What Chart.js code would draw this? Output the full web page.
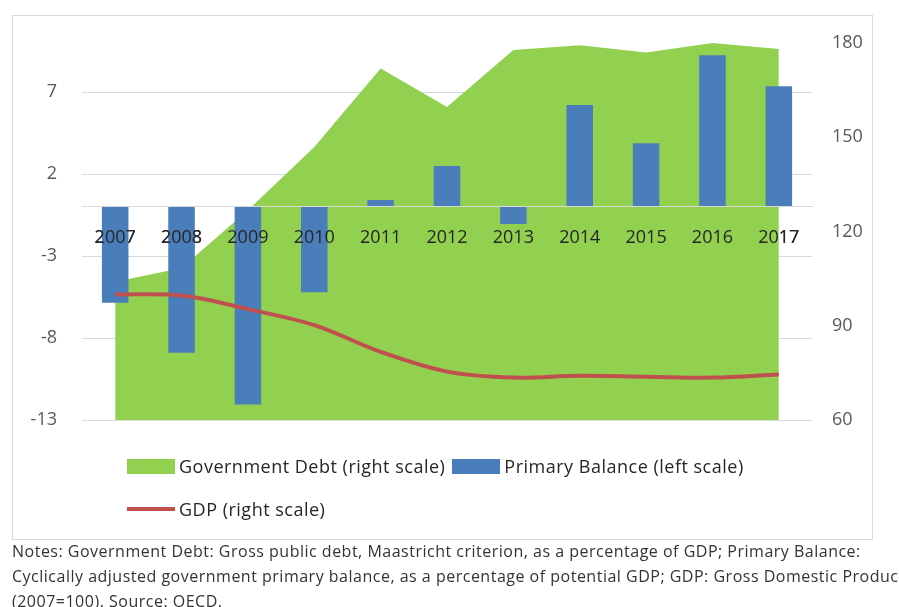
<!DOCTYPE html>
<html>
<head>
<meta charset="utf-8">
<script src="https://cdn.jsdelivr.net/npm/chart.js@4.4.1/dist/chart.umd.min.js"></script>
<style>
    body { margin: 0; background: #fff; font-family: "Open Sans", sans-serif; overflow: hidden; }
    #box {
        position: absolute; left: 12px; top: 15px; width: 861px; height: 525px;
        box-sizing: border-box; border: 1px solid #d9d9d9;
    }
    #wrap { position: absolute; left: 0; top: 0; width: 859px; height: 523px; }
    #legend { position: absolute; left: 114px; top: 438px; font-size: 18px; letter-spacing: 0.5px; color: #262626; }
    .row { display: flex; align-items: center; height: 24px; margin-bottom: 19px; white-space: nowrap; }
    .item { display: flex; align-items: center; margin-right: 7px; }
    .sw { width: 48px; height: 15px; margin-right: 4px; }
    .ln { width: 48px; height: 4px; margin-right: 4px; }
    #notes {
        position: absolute; left: 12px; top: 539px; width: 887px; overflow: hidden;
        white-space: nowrap; font-size: 16px; letter-spacing: 0.5px; line-height: 25px; color: #333;
    }
</style>
</head>
<body>
<div id="box">
    <div id="wrap"><canvas id="canvas"></canvas></div>
    <div id="legend"></div>
</div>
<div id="notes">Notes: Government Debt: Gross public debt, Maastricht criterion, as a percentage of GDP; Primary Balance:<br>Cyclically adjusted government primary balance, as a percentage of potential GDP; GDP: Gross Domestic Product<br>(2007=100). Source: OECD.</div>
<script>
const years = ["2007", "2008", "2009", "2010", "2011", "2012", "2013", "2014", "2015", "2016", "2017"];
const primaryBalance = [-5.85, -8.9, -12.05, -5.2, 0.42, 2.5, -1.04, 6.22, 3.88, 9.25, 7.36];   // левая шкала
const govDebt = [104.0, 108.4, 126.8, 146.9, 171.9, 159.6, 177.8, 179.3, 177.0, 180.0, 178.1]; // правая шкала
const gdp = [100.0, 99.6, 95.3, 90.2, 81.7, 75.4, 73.5, 74.1, 73.8, 73.5, 74.5];               // правая шкала
const leftTicks = [-13, -8, -3, 2, 7];
const rightTicks = [60, 90, 120, 150, 180];

const tickFont = { family: "Open Sans", size: 18 };

// подписи лет и линия нуля поверх столбцов и заливки
const xOnTop = {
    id: "xOnTop",
    afterDatasetsDraw(chart) {
        const x = chart.scales.x;
        x.drawBorder();
        x.drawLabels(chart.chartArea);
    },
};

// фиксированная ширина оси, без запаса под подписи сверху/снизу
const fixAxis = w => s => {
    s.width = w;
    s.paddingTop = 0;
    s.paddingBottom = 0;
};

const chart = new Chart(document.getElementById("canvas"), {
    type: "bar",
    data: {
        labels: years,
        datasets: [
            {
                label: "Government Debt (right scale)",
                type: "line",
                data: govDebt,
                yAxisID: "y1",
                fill: "start",
                backgroundColor: "#92d050",
                borderColor: "#92d050",
                borderWidth: 0,
                pointRadius: 0,
                order: 2,
            },
            {
                label: "Primary Balance (left scale)",
                data: primaryBalance,
                yAxisID: "y",
                backgroundColor: "#4a7ebb",
                barPercentage: 0.4,
                categoryPercentage: 1.0,
                order: 1,
            },
            {
                label: "GDP (right scale)",
                type: "line",
                data: gdp,
                yAxisID: "y1",
                borderColor: "#c0504d",
                backgroundColor: "#c0504d",
                borderWidth: 4,
                pointRadius: 0,
                tension: 0.35,
                fill: false,
                order: 0,
            },
        ],
    },
    options: {
        responsive: true,
        maintainAspectRatio: false,
        animation: false,
        plugins: {
            legend: { display: false },
            tooltip: { enabled: false },
        },
        layout: {
            padding: { left: 0, right: 0, top: 27, bottom: 119 },
        },
        scales: {
            x: {
                position: { y: 0 },        // подписи лет от нуля левой шкалы
                grid: { display: false, drawTicks: false },
                border: { display: true, color: "#d9d9d9" },
                ticks: { font: tickFont, color: "#262626", padding: 20, maxRotation: 0, autoSkip: false },
            },
            y: {
                position: "left",
                min: -13,
                max: 10,
                afterBuildTicks: s => { s.ticks = leftTicks.map(value => ({ value })); },
                afterFit: fixAxis(69),
                grid: { color: "#d9d9d9", drawTicks: false },
                border: { display: false },
                ticks: { font: tickFont, color: "#595959", padding: 25 },
            },
            y1: {
                position: "right",
                min: 60,
                max: 180,
                afterBuildTicks: s => { s.ticks = rightTicks.map(value => ({ value })); },
                afterFit: fixAxis(60),
                grid: { display: false, drawTicks: false },
                border: { display: false },
                ticks: { font: tickFont, color: "#595959", padding: 20 },
            },
        },
    },
    plugins: [xOnTop],
});

// легенда в две строки, как в Excel
const legend = document.getElementById("legend");
const rows = [[0, 1], [2]];
rows.forEach(idx => {
    const row = document.createElement("div");
    row.className = "row";
    idx.forEach(i => {
        const ds = chart.data.datasets[i];
        const item = document.createElement("div");
        item.className = "item";
        const sw = document.createElement("span");
        const isLine = ds.type === "line" && !ds.fill;
        sw.className = isLine ? "ln" : "sw";
        sw.style.background = isLine ? ds.borderColor : ds.backgroundColor;
        const txt = document.createElement("span");
        txt.textContent = ds.label;
        item.append(sw, txt);
        row.append(item);
    });
    legend.append(row);
});
</script>
</body>
</html>
